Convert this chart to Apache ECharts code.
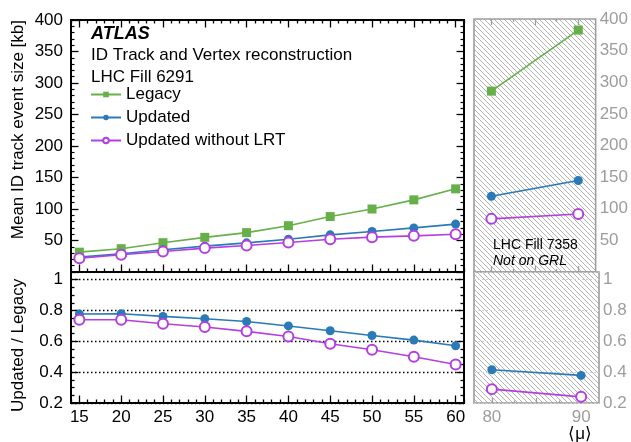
<!DOCTYPE html>
<html>
<head>
<meta charset="utf-8">
<script src="https://cdn.jsdelivr.net/npm/echarts@6/dist/echarts.min.js"></script>
<style>
html,body{margin:0;padding:0;background:#fff;}
#chart{width:631px;height:442px;}
</style>
</head>
<body>
<div id="chart"></div>
<script>
// ---------- data ----------
const muLeft = [15, 20, 25, 30, 35, 40, 45, 50, 55, 60];
const legacyLeft = [31.5, 37, 46.5, 55, 62.5, 73.5, 88, 100, 114.5, 132];
const updatedLeft = [23.6, 28.9, 35.2, 41, 46.3, 52, 59, 64.2, 70, 76];
const noLrtLeft = [22, 27.3, 32.5, 37.9, 42, 46.8, 52, 55.3, 57.4, 60];
const ratioUpdatedLeft = [0.777, 0.779, 0.762, 0.747, 0.729, 0.70, 0.669, 0.638, 0.608, 0.571];
const ratioNoLrtLeft = [0.74, 0.74, 0.714, 0.693, 0.665, 0.632, 0.584, 0.545, 0.50, 0.45];

const muRight = [80, 90];
const legacyRight = [286, 382.5];
const updatedRight = [119.7, 144.6];
const noLrtRight = [84, 91.8];
const ratioUpdatedRight = [0.416, 0.379];
const ratioNoLrtRight = [0.29, 0.24];

// tick labels
const xLabelsLeft = [15, 20, 25, 30, 35, 40, 45, 50, 55, 60];
const xLabelsRight = [80, 90];
const xMajorRight = [80, 85, 90];
const xMinorRight = [82.5, 87.5];
const yLabelsTop = [50, 100, 150, 200, 250, 300, 350, 400];
const yLabelsRatio = [0.2, 0.4, 0.6, 0.8, 1];

const seriesNames = ['Legacy', 'Updated', 'Updated without LRT'];

// ---------- style ----------
const FONT = '"Liberation Sans", Arial, Helvetica, sans-serif';
const GREEN = '#66b04a', BLUE = '#2a7ab8', PURPLE = '#b43fe0';
const GRAY = '#9d9d9d';

function steps(a, b, s, skipEvery) {
  const out = [];
  for (let v = a; v <= b + 1e-9; v += s) {
    const r = Math.round(v * 1000) / 1000;
    if (skipEvery && Math.abs(r / skipEvery - Math.round(r / skipEvery)) < 1e-6) continue;
    out.push(r);
  }
  return out;
}
const xMinorLeft = steps(14, 61, 1, 5);
const yMinorRatio = steps(0.25, 0.95, 0.05, 0.2);

// hatch pattern
function hatch() {
  const c = document.createElement('canvas');
  const s = 5;
  c.width = s; c.height = s;
  const g = c.getContext('2d');
  g.fillStyle = '#fff'; g.fillRect(0, 0, s, s);
  g.strokeStyle = '#a8a8a8'; g.lineWidth = 0.9;
  g.beginPath();
  g.moveTo(-1, -1); g.lineTo(s + 1, s + 1);
  g.moveTo(-1, s - 1); g.lineTo(1, s + 1);
  g.moveTo(s - 1, -1); g.lineTo(s + 1, 1);
  g.stroke();
  return { image: c, repeat: 'repeat' };
}
const HATCH = hatch();

const grid = [
  { left: 71, top: 20, width: 393, height: 252, show: true, borderColor: '#000', borderWidth: 2, backgroundColor: 'transparent' },
  { left: 71, top: 272, width: 393, height: 131, show: true, borderColor: '#000', borderWidth: 2, backgroundColor: 'transparent' },
  { left: 474, top: 19, width: 125, height: 253, show: true, borderColor: GRAY, borderWidth: 1.6, backgroundColor: HATCH },
  { left: 474, top: 272, width: 125, height: 131, show: true, borderColor: GRAY, borderWidth: 1.6, backgroundColor: HATCH }
];

function ax(gridIndex, pos, min, max, o) {
  o = o || {};
  const color = o.color || '#000';
  const a = {
    type: 'value', gridIndex, position: pos, min, max,
    axisLine: { show: false, onZero: false },
    splitLine: o.split || { show: false },
    axisTick: { show: !!(o.ticks || o.nativeTicks), inside: true, length: o.len || 7, lineStyle: { color, width: 1.3 } },
    minorTick: o.minor ? { show: true, splitNumber: o.minor, length: 3.5, lineStyle: { color, width: 1.2 } } : { show: false },
    axisLabel: o.labels || o.nativeLabels ? {
      show: true, color, fontSize: 17, fontFamily: FONT, margin: o.margin != null ? o.margin : 6,
      showMinLabel: o.showMin !== false
    } : { show: false }
  };
  if (o.interval) a.interval = o.interval;
  if (o.ticks) a.axisTick.customValues = o.ticks;
  if (o.labels) a.axisLabel.customValues = o.labels;
  return a;
}

const xAxis = [];
const yAxis = [];
const XI = [], YI = [];

// grid 0: top-left
XI[0] = xAxis.length;
xAxis.push(ax(0, 'bottom', 14, 61, { ticks: xLabelsLeft, len: 7.5 }));
xAxis.push(ax(0, 'bottom', 14, 61, { ticks: xMinorLeft, len: 3.5 }));
xAxis.push(ax(0, 'top', 14, 61, { ticks: xLabelsLeft, len: 7.5 }));
xAxis.push(ax(0, 'top', 14, 61, { ticks: xMinorLeft, len: 3.5 }));
YI[0] = yAxis.length;
yAxis.push(ax(0, 'left', 0, 400, { interval: 50, nativeTicks: true, nativeLabels: true, minor: 5, len: 7.5, showMin: false, margin: 8 }));
yAxis.push(ax(0, 'right', 0, 400, { interval: 50, nativeTicks: true, minor: 5, len: 7.5 }));

// grid 1: ratio-left
XI[1] = xAxis.length;
xAxis.push(ax(1, 'bottom', 14, 61, { ticks: xLabelsLeft, labels: xLabelsLeft, len: 7.5, margin: 6 }));
xAxis.push(ax(1, 'bottom', 14, 61, { ticks: xMinorLeft, len: 3.5 }));
YI[1] = yAxis.length;
yAxis.push(ax(1, 'left', 0.2, 1.05, { interval: 0.2, ticks: yLabelsRatio, labels: yLabelsRatio, len: 7.5, margin: 8,
  split: { show: true, lineStyle: { color: '#000', width: 1.3, type: [1.5, 2.5] } } }));
yAxis.push(ax(1, 'left', 0.2, 1.05, { ticks: yMinorRatio, len: 3.5 }));
yAxis.push(ax(1, 'right', 0.2, 1.05, { ticks: yLabelsRatio, len: 7.5 }));
yAxis.push(ax(1, 'right', 0.2, 1.05, { ticks: yMinorRatio, len: 3.5 }));

// grid 2: top-right
XI[2] = xAxis.length;
xAxis.push(ax(2, 'bottom', 78, 92, { ticks: xMajorRight, len: 6, color: GRAY }));
xAxis.push(ax(2, 'bottom', 78, 92, { ticks: xMinorRight, len: 3, color: GRAY }));
xAxis.push(ax(2, 'top', 78, 92, { ticks: xMajorRight, len: 6, color: GRAY }));
xAxis.push(ax(2, 'top', 78, 92, { ticks: xMinorRight, len: 3, color: GRAY }));
YI[2] = yAxis.length;
yAxis.push(ax(2, 'right', 0, 400, { interval: 50, nativeLabels: true, showMin: false, color: GRAY, margin: 4 }));

// grid 3: ratio-right
XI[3] = xAxis.length;
xAxis.push(ax(3, 'bottom', 78, 92, { ticks: xMajorRight, labels: xLabelsRight, len: 5, color: GRAY, margin: 6 }));
xAxis.push(ax(3, 'bottom', 78, 92, { ticks: xMinorRight, len: 2.5, color: GRAY }));
YI[3] = yAxis.length;
yAxis.push(ax(3, 'right', 0.2, 1.05, { interval: 0.2, labels: yLabelsRatio, color: GRAY, margin: 4,
  split: { show: true, lineStyle: { color: '#d0d0d0', width: 1, type: [2, 2] } } }));

function ser(name, xs, ys, g, symbol, color, size) {
  return {
    type: 'line', name, xAxisIndex: XI[g], yAxisIndex: YI[g],
    data: xs.map((x, i) => [x, ys[i]]),
    symbol, symbolSize: size, showAllSymbol: true,
    lineStyle: { color, width: 1.6 },
    itemStyle: { color, borderWidth: symbol === 'emptyCircle' ? 1.3 : 0 },
    emphasis: { disabled: true }, animation: false, silent: true, z: 3
  };
}

const series = [
  ser(seriesNames[0], muLeft, legacyLeft, 0, 'rect', GREEN, 9),
  ser(seriesNames[1], muLeft, updatedLeft, 0, 'circle', BLUE, 9),
  ser(seriesNames[2], muLeft, noLrtLeft, 0, 'emptyCircle', PURPLE, 10),
  ser(seriesNames[1], muLeft, ratioUpdatedLeft, 1, 'circle', BLUE, 9),
  ser(seriesNames[2], muLeft, ratioNoLrtLeft, 1, 'emptyCircle', PURPLE, 10),
  ser(seriesNames[0], muRight, legacyRight, 2, 'rect', GREEN, 9),
  ser(seriesNames[1], muRight, updatedRight, 2, 'circle', BLUE, 9),
  ser(seriesNames[2], muRight, noLrtRight, 2, 'emptyCircle', PURPLE, 10),
  ser(seriesNames[1], muRight, ratioUpdatedRight, 3, 'circle', BLUE, 9),
  ser(seriesNames[2], muRight, ratioNoLrtRight, 3, 'emptyCircle', PURPLE, 10)
];

const txt = (x, y, text, extra) => Object.assign({
  type: 'text', x, y, silent: true,
  style: Object.assign({ text, fontFamily: FONT, fontSize: 17, fill: '#000', textVerticalAlign: 'middle', textAlign: 'left' }, extra || {})
});

const graphic = [
  txt(91, 34, 'ATLAS', { fontWeight: 'bold', fontStyle: 'italic', fontSize: 18 }),
  txt(91, 55, 'ID Track and Vertex reconstruction'),
  txt(91, 77, 'LHC Fill 6291'),
  txt(493, 245, 'LHC Fill 7358', { fontSize: 14 }),
  txt(493, 261, 'Not on GRL', { fontSize: 14, fontStyle: 'italic' }),
  Object.assign(txt(18, 20, 'Mean ID track event size [kb]', { textAlign: 'right' }), { rotation: Math.PI / 2 }),
  Object.assign(txt(18, 412, 'Updated / Legacy', { textAlign: 'left' }), { rotation: Math.PI / 2 }),
  txt(592, 434, '\u27E8\u03BC\u27E9', { textAlign: 'right' })
];

const chart = echarts.init(document.getElementById('chart'), null, { renderer: 'canvas' });
chart.setOption({
  animation: false,
  backgroundColor: '#fff',
  grid, xAxis, yAxis, series, graphic,
  legend: {
    data: seriesNames, orient: 'vertical', left: 90, top: 86, padding: 0,
    itemWidth: 30, itemHeight: 7, itemGap: 6, selectedMode: false,
    textStyle: { fontSize: 17, fontFamily: FONT, color: '#000', lineHeight: 17 }
  }
});
</script>
</body>
</html>
